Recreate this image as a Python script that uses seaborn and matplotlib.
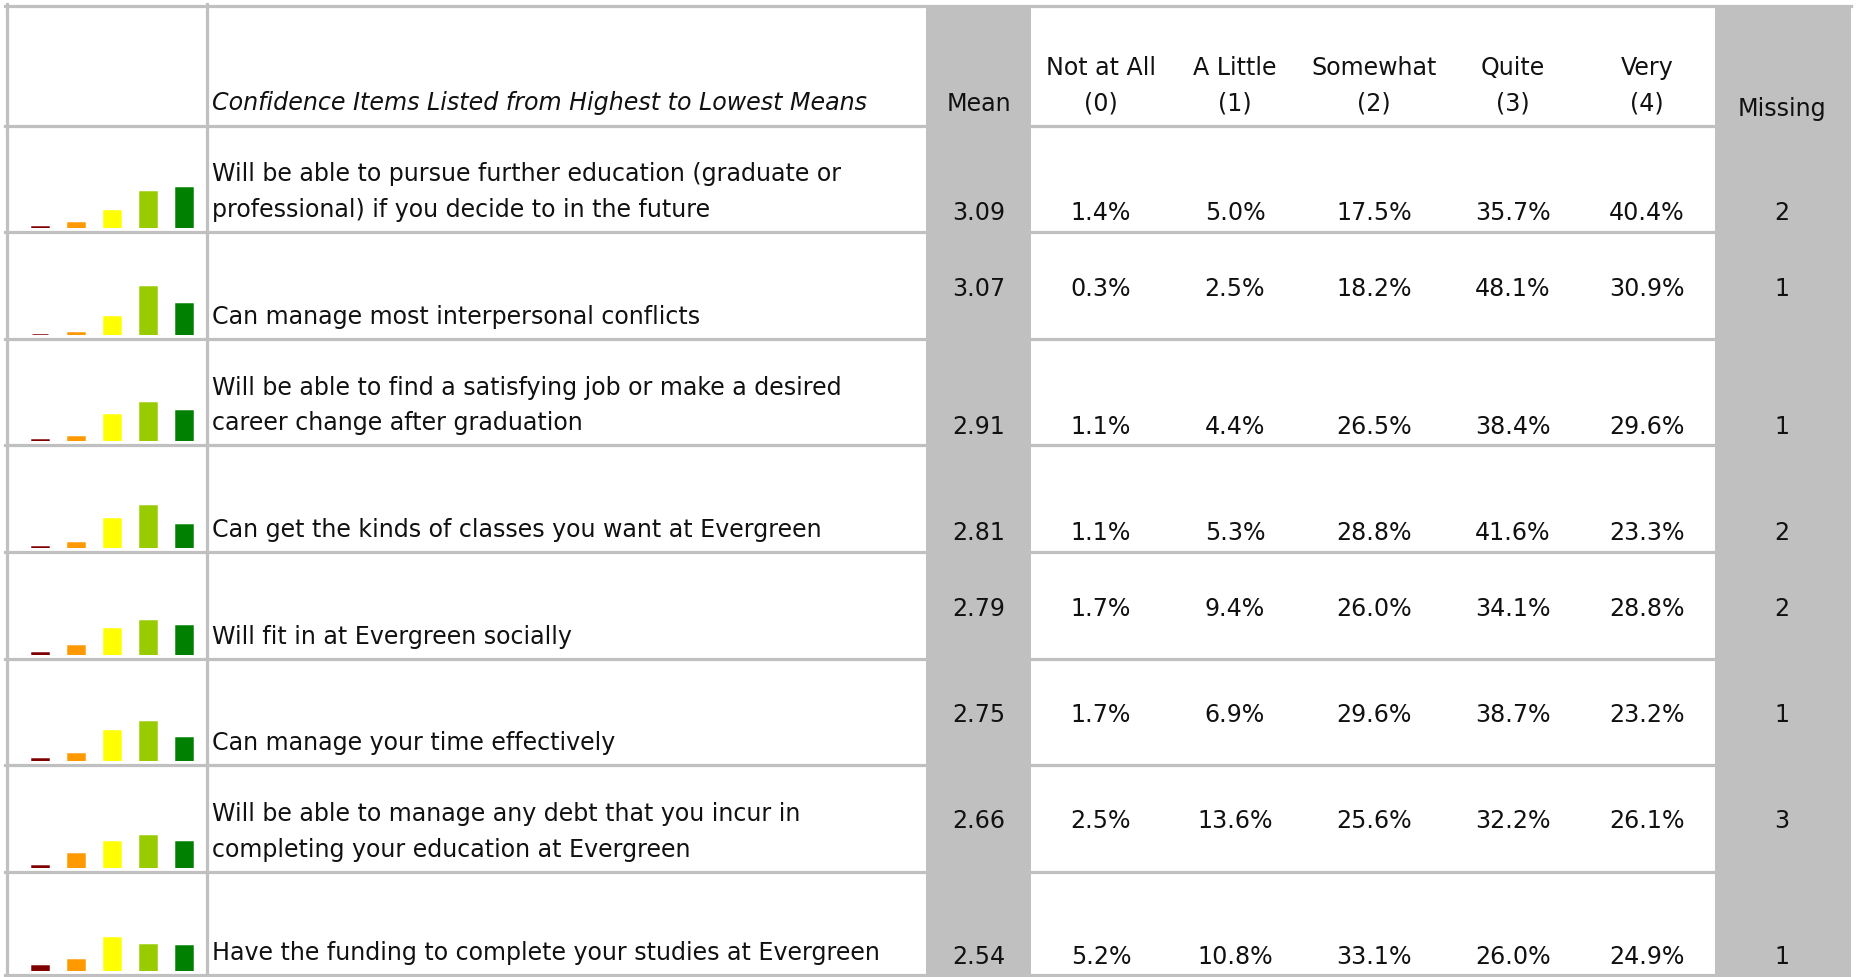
import matplotlib
matplotlib.use("Agg")
import matplotlib.pyplot as plt
from matplotlib.patches import Rectangle
import seaborn as sns

# Table data (percent of respondents per response level)
items = [
    "Will be able to pursue further education (graduate or\nprofessional) if you decide to in the future",
    "Can manage most interpersonal conflicts",
    "Will be able to find a satisfying job or make a desired\ncareer change after graduation",
    "Can get the kinds of classes you want at Evergreen",
    "Will fit in at Evergreen socially",
    "Can manage your time effectively",
    "Will be able to manage any debt that you incur in\ncompleting your education at Evergreen",
    "Have the funding to complete your studies at Evergreen",
]
means = [3.09, 3.07, 2.91, 2.81, 2.79, 2.75, 2.66, 2.54]
not_at_all = [1.4, 0.3, 1.1, 1.1, 1.7, 1.7, 2.5, 5.2]
a_little = [5.0, 2.5, 4.4, 5.3, 9.4, 6.9, 13.6, 10.8]
somewhat = [17.5, 18.2, 26.5, 28.8, 26.0, 29.6, 25.6, 33.1]
quite = [35.7, 48.1, 38.4, 41.6, 34.1, 38.7, 32.2, 26.0]
very = [40.4, 30.9, 29.6, 23.3, 28.8, 23.2, 26.1, 24.9]
missing = [2, 1, 1, 2, 2, 1, 3, 1]

levels = ["Not at All\n(0)", "A Little\n(1)", "Somewhat\n(2)", "Quite\n(3)", "Very\n(4)"]
header_title = "Confidence Items Listed from Highest to Lowest Means"
bar_colors = ["#800000", "#FF9900", "#FFFF00", "#99CC00", "#008000"]

# how the numbers sit inside each row (as in the original sheet)
row_valign = ["bottom", "center", "bottom", "bottom", "center", "center", "center", "bottom"]

plt.rcParams["font.family"] = ["DejaVu Sans"]
W, H = 1857, 978
fig = plt.figure(figsize=(W / 100, H / 100), dpi=100)
ax = fig.add_axes([0, 0, 1, 1])
ax.set_xlim(0, W)
ax.set_ylim(H, 0)
ax.axis("off")

grid = "#C0C0C0"
txt = "#111111"
row_lines = [127, 233, 340, 446, 553, 660, 766, 873, 976]
fs = 17.1

# grid lines
ax.plot([5, 1851], [6.5, 6.5], color=grid, lw=2.3, zorder=1)
for y in row_lines:
    ax.plot([5, 1715], [y, y], color=grid, lw=2.3, zorder=1)
for x in [6.5, 207]:
    ax.plot([x, x], [5, H], color=grid, lw=2.3, zorder=1)

# shaded Mean and Missing columns
ax.add_patch(Rectangle((926, 7), 105, H, color=grid, zorder=2, lw=0))
ax.add_patch(Rectangle((1715, 7), 136, H, color=grid, zorder=2, lw=0))

col_x = [1101, 1235, 1374, 1513, 1647]
mean_x, miss_x = 979, 1782

# header
ax.text(212, 110, header_title, fontsize=fs, style="italic", va="baseline", ha="left", color=txt, zorder=3)
ax.text(mean_x, 111, "Mean", fontsize=fs, va="baseline", ha="center", color=txt, zorder=3)
ax.text(miss_x, 116, "Missing", fontsize=fs, va="baseline", ha="center", color=txt, zorder=3)
for x, lab in zip(col_x, levels):
    top, bot = lab.split("\n")
    ax.text(x, 75, top, fontsize=fs, va="baseline", ha="center", color=txt, zorder=3)
    ax.text(x, 111, bot, fontsize=fs, va="baseline", ha="center", color=txt, zorder=3)

for i in range(len(items)):
    top, bottom = row_lines[i], row_lines[i + 1]
    # item text, bottom aligned
    lines = items[i].split("\n")
    for k, line in enumerate(lines):
        yb = bottom - 16 - 35.5 * (len(lines) - 1 - k)
        ax.text(212, yb, line, fontsize=fs, va="baseline", ha="left", color=txt, zorder=3)

    if row_valign[i] == "bottom":
        yv = bottom - 12.5
    else:
        yv = (top + bottom) / 2 + 9
    vals = [not_at_all[i], a_little[i], somewhat[i], quite[i], very[i]]
    ax.text(mean_x, yv, f"{means[i]:.2f}", fontsize=fs, va="baseline", ha="center", color=txt, zorder=3)
    for x, v in zip(col_x, vals):
        ax.text(x, yv, f"{v:.1f}%", fontsize=fs, va="baseline", ha="center", color=txt, zorder=3)
    ax.text(miss_x, yv, str(missing[i]), fontsize=fs, va="baseline", ha="center", color=txt, zorder=3)

    # mini bar chart in the first column (1 px per percent)
    base = bottom - 4
    iax = fig.add_axes([22 / W, (H - base) / H, 180 / W, 90 / H])
    sns.barplot(x=levels, y=vals, hue=levels, palette=bar_colors, width=0.42,
                saturation=1, legend=False, ax=iax)
    for p in iax.patches:
        p.set_edgecolor(p.get_facecolor())
        p.set_linewidth(1.8)
    iax.set_xlim(-0.5, 4.5)
    iax.set_ylim(0, 90)
    iax.axis("off")

fig.savefig("out.png", dpi=100)
